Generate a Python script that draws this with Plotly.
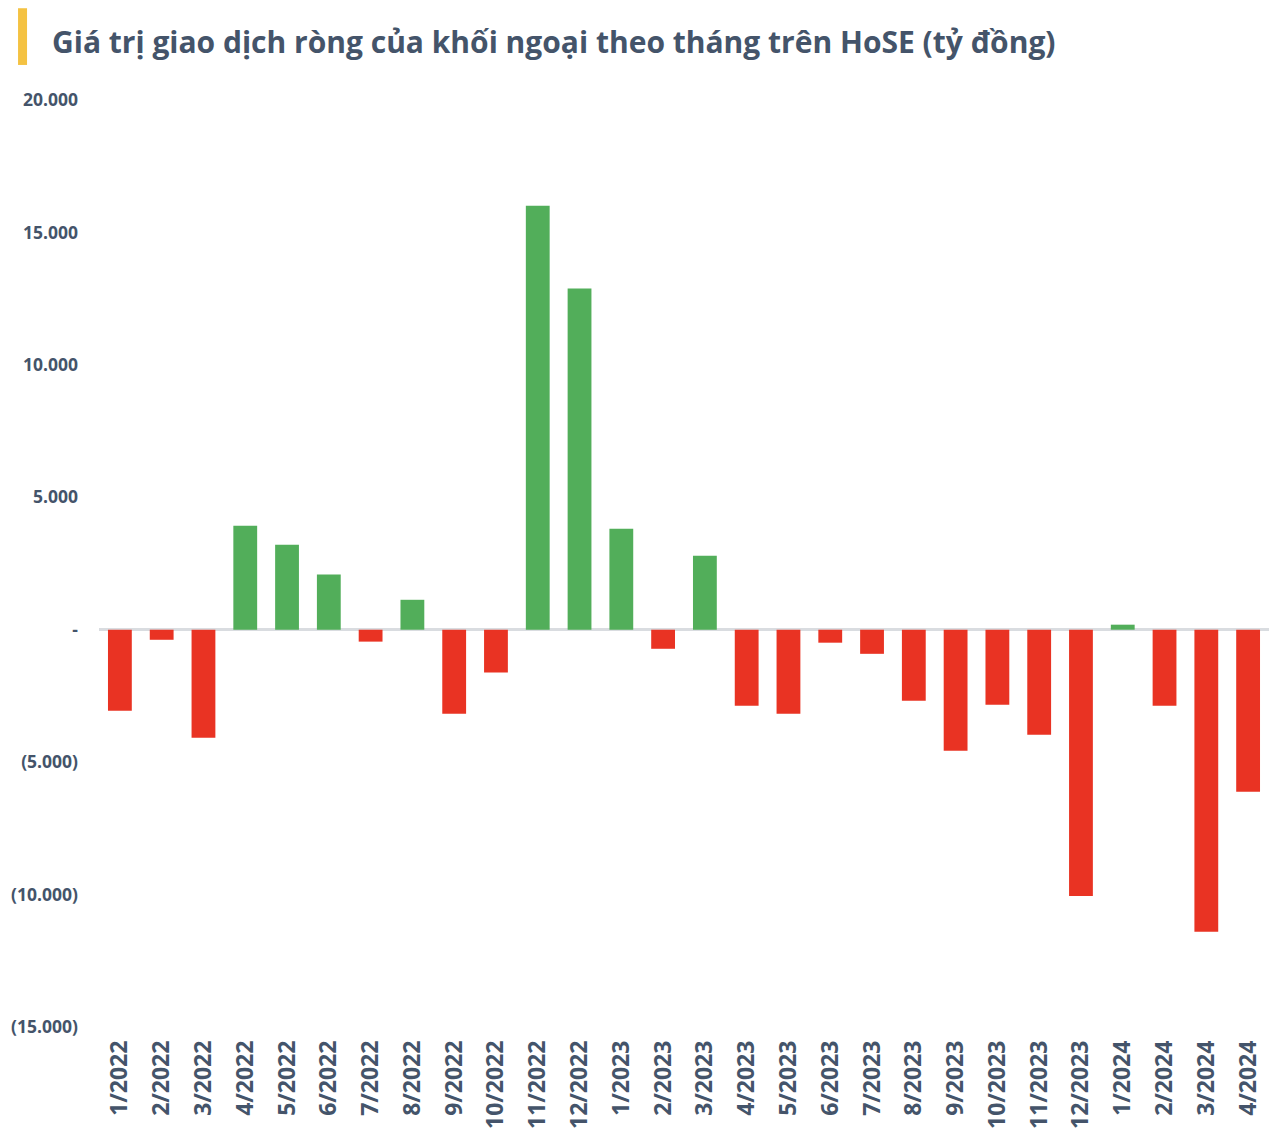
import plotly.graph_objects as go

months = ["1/2022", "2/2022", "3/2022", "4/2022", "5/2022", "6/2022", "7/2022", "8/2022",
          "9/2022", "10/2022", "11/2022", "12/2022", "1/2023", "2/2023", "3/2023", "4/2023",
          "5/2023", "6/2023", "7/2023", "8/2023", "9/2023", "10/2023", "11/2023", "12/2023",
          "1/2024", "2/2024", "3/2024", "4/2024"]
values = [-3060, -380, -4080, 3930, 3210, 2080, -450, 1130,
          -3170, -1620, 16010, 12880, 3810, -720, 2790, -2870,
          -3170, -490, -910, -2680, -4570, -2830, -3970, -10050,
          190, -2870, -11400, -6120]
tick_vals = [-15000, -10000, -5000, 0, 5000, 10000, 15000, 20000]
tick_text = ["(15.000)", "(10.000)", "(5.000)", "-", "5.000", "10.000", "15.000", "20.000"]

GREEN = "#52ae5a"
RED = "#e93323"
TXT = "#44546a"
colors = [GREEN if v >= 0 else RED for v in values]

fig = go.Figure(go.Bar(x=months, y=values, marker=dict(color=colors, line=dict(width=0)),
                       hoverinfo="x+y"))

fig.update_layout(
    width=1288, height=1144,
    paper_bgcolor="white", plot_bgcolor="white",
    margin=dict(l=91, r=27, t=92, b=125),
    bargap=0.43,
    showlegend=False,
    font=dict(family="Open Sans", color=TXT, size=16),
    title=dict(text="<b>Giá trị giao dịch ròng của khối ngoại theo tháng trên HoSE (tỷ đồng)</b>",
               x=44/1288, xanchor="left", xref="container",
               y=1-34/1144, yanchor="middle", yref="container",
               font=dict(family="Open Sans", size=30, color=TXT)),
    xaxis=dict(type="category", tickangle=-90, showgrid=False, showline=False, ticks="",
               ticklabelstandoff=8, automargin=False,
               tickfont=dict(size=23, color=TXT, family="Open Sans", weight="bold")),
    yaxis=dict(range=[-15000, 20000], tickvals=tick_vals, ticktext=tick_text,
               showgrid=False, zeroline=True, zerolinecolor="#d9dce0", zerolinewidth=3,
               showline=False, ticks="", ticklabelstandoff=20, automargin=False,
               tickfont=dict(size=17.5, color=TXT, family="Open Sans", weight="bold")),
    shapes=[dict(type="rect", xref="paper", yref="paper",
                 x0=-0.0692, x1=-0.0615, y0=1.0378, y1=1.099,
                 fillcolor="#f4c242", line=dict(width=0))],
)

fig.write_html("out.html")
